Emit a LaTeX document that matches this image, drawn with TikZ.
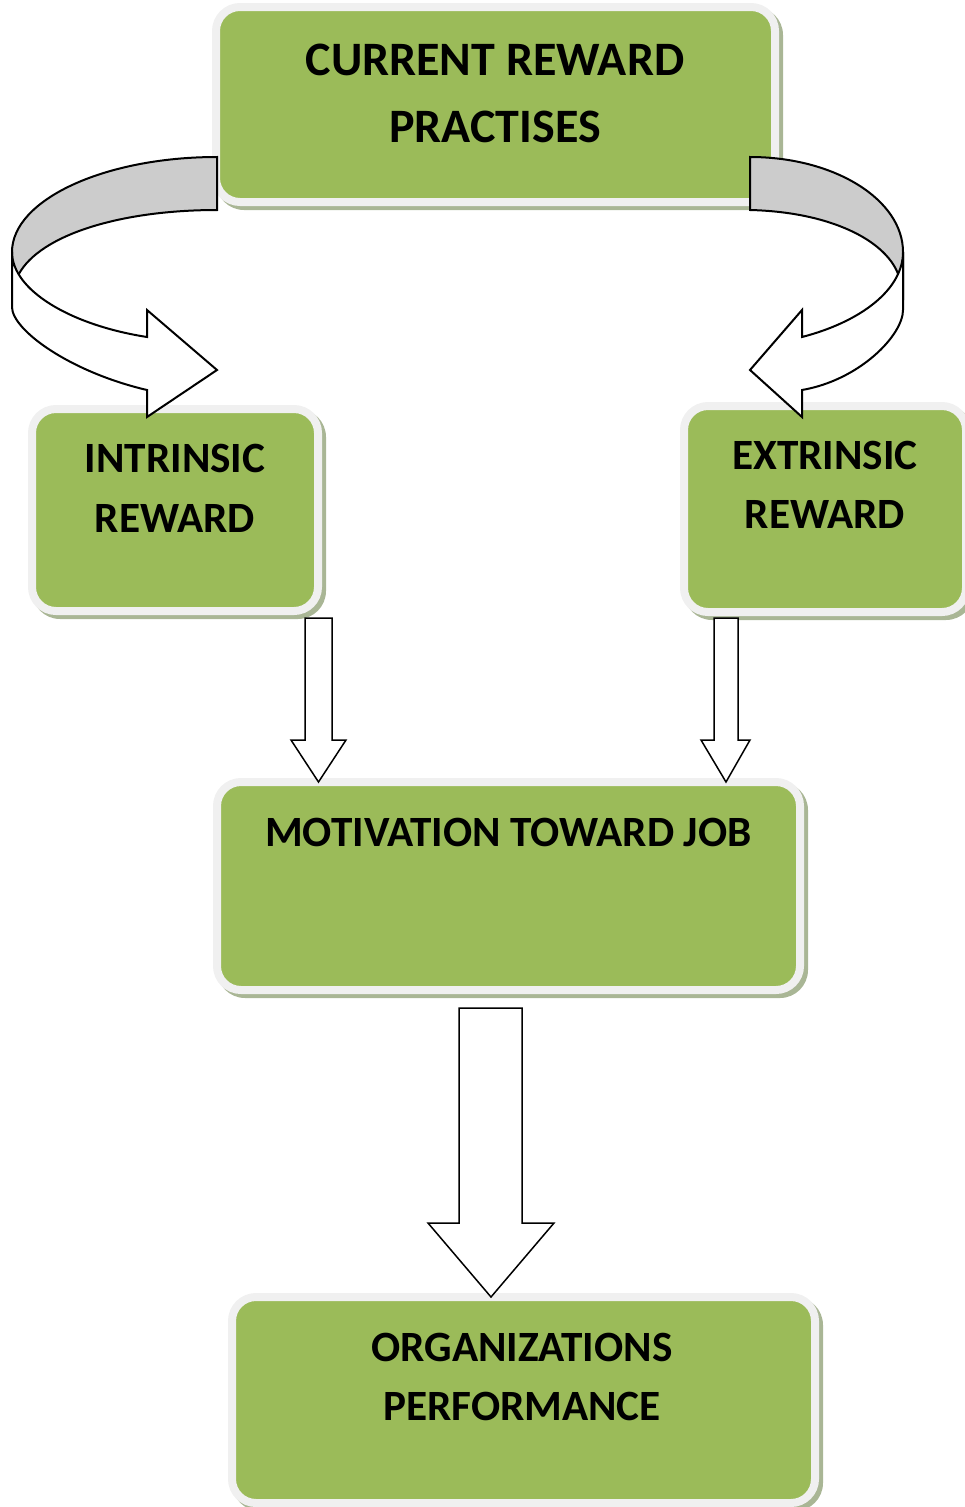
\documentclass[tikz,border=0pt]{standalone}
\usepackage{fontspec}
\setmainfont{Carlito}
\definecolor{boxgreen}{HTML}{9BBB59}
\definecolor{boxrim}{HTML}{F0F0F0}
\definecolor{boxshade}{HTML}{A9B695}
\definecolor{ribbon}{HTML}{CCCCCC}
\begin{document}
\begin{tikzpicture}[x=1pt,y=-1pt,
  card/.style={rectangle, rounded corners=24pt, fill=boxgreen, draw=boxrim,
    line width=8pt, inner sep=0pt, outer sep=0pt},
  cardshade/.style={rectangle, rounded corners=28pt, fill=boxshade,
    inner sep=0pt, outer sep=0pt},
  bigtext/.style={font=\bfseries\fontsize{48}{58}\selectfont, anchor=base, inner sep=0pt},
  boxtext/.style={font=\bfseries\fontsize{43.2}{50}\selectfont, anchor=base, inner sep=0pt},
  blockarrow/.style={draw=black, fill=white, line width=1.5pt, line join=miter},
  ribbonback/.style={draw=black, fill=ribbon, line width=2pt, line join=miter},
  ribbonfront/.style={draw=black, fill=white, line width=2pt, line join=miter}
]
\useasboundingbox (0,0) rectangle (964,1507);

% --- boxes: soft shadow, then the rimmed green card ---
\node[cardshade, minimum width=567, minimum height=203] (topS)  at (499.5,108.5) {};
\node[card, minimum width=559, minimum height=195]      (top)   at (495.5,104.5) {};

\node[cardshade, minimum width=294, minimum height=210] (intrS) at (179,514) {};
\node[card, minimum width=286, minimum height=202]      (intr)  at (175,510) {};

\node[cardshade, minimum width=290, minimum height=214] (extrS) at (829,513) {};
\node[card, minimum width=282, minimum height=206]      (extr)  at (825,509) {};

\node[cardshade, minimum width=591, minimum height=216] (motS)  at (512.5,890) {};
\node[card, minimum width=583, minimum height=208]      (mot)   at (508.5,886) {};

\node[cardshade, minimum width=591, minimum height=214] (orgS)  at (527.5,1404) {};
\node[card, minimum width=583, minimum height=206]      (org)   at (523.5,1400) {};

% --- curved ribbon arrow on the left ---
\draw[ribbonback] (217,157) .. controls (104,157) and (12,200) .. (12,252)
  -- (12,300) -- (18.7,274.3) .. controls (40,235) and (120,210) .. (217,210) -- cycle;
\draw[ribbonfront] (12,252) -- (12,307) .. controls (12,330) and (70,372) .. (147,390)
  -- (147,417) -- (217,370) -- (147,310) -- (147,337)
  .. controls (70,325) and (12,290) .. (12,252) -- cycle;

% --- curved ribbon arrow on the right ---
\draw[ribbonback] (750,157) .. controls (835,157) and (903,200) .. (903,252)
  -- (903,300) -- (898.1,274) .. controls (885,240) and (830,212) .. (750,210) -- cycle;
\draw[ribbonfront] (903,252) -- (903,310) .. controls (903,335) and (860,380) .. (802,390)
  -- (802,417) -- (750,370) -- (802,310) -- (802,337)
  .. controls (860,322) and (903,290) .. (903,252) -- cycle;

% --- straight block arrows ---
\draw[blockarrow] (305,618) -- (305,740) -- (291,740) -- (318.5,782)
  -- (346,740) -- (332,740) -- (332,618) -- cycle;
\draw[blockarrow] (714,618) -- (714,740) -- (701,740) -- (726,782)
  -- (750,740) -- (738,740) -- (738,618) -- cycle;
\draw[blockarrow] (459,1008) -- (459,1223) -- (428,1223) -- (491,1297)
  -- (554,1223) -- (522,1223) -- (522,1008) -- cycle;

% --- labels ---
\node[bigtext] (topA) at (495,75.5)  {CURRENT REWARD};
\node[bigtext] (topB) at (495,142.5) {PRACTISES};

\node[boxtext] (intrA) at (175,472.5) {INTRINSIC};
\node[boxtext] (intrB) at (175,532.5) {REWARD};

\node[boxtext] (extrA) at (825,469.5) {EXTRINSIC};
\node[boxtext] (extrB) at (825,528.5) {REWARD};

\node[boxtext] (motA) at (508.5,846.5) {MOTIVATION TOWARD JOB};

\node[boxtext] (orgA) at (522,1361.5) {ORGANIZATIONS};
\node[boxtext] (orgB) at (522,1420.5) {PERFORMANCE};
\end{tikzpicture}
\end{document}
